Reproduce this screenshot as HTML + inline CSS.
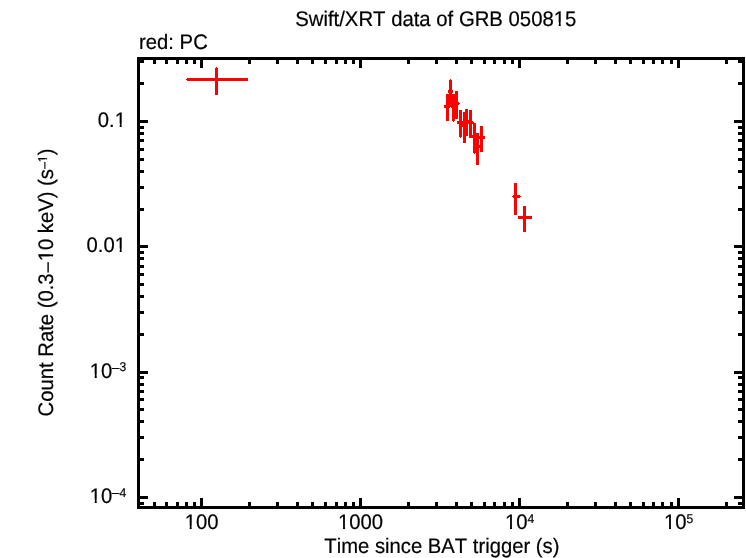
<!DOCTYPE html>
<html><head><meta charset="utf-8"><title>Swift/XRT data of GRB 050815</title>
<style>
html,body{margin:0;padding:0;background:#fff;}
svg{display:block;}
text{font-family:"Liberation Sans",sans-serif;font-size:20.25px;fill:#000;font-kerning:none;text-rendering:geometricPrecision;stroke:#000;stroke-width:0.2px;}
.s{font-size:12.15px;}
.m{font-size:13.2px;stroke:#000;stroke-width:0.25px;}
</style></head><body>
<svg width="746" height="558" viewBox="0 0 746 558">
<rect width="746" height="558" fill="#fff"/>
<g fill="#000" shape-rendering="crispEdges"><rect x="137" y="57" width="608" height="3"/><rect x="137" y="506" width="608" height="3"/><rect x="137" y="57" width="3" height="452"/><rect x="742" y="57" width="3" height="452"/><rect x="153" y="60" width="3" height="4"/><rect x="153" y="502" width="3" height="4"/><rect x="165" y="60" width="3" height="4"/><rect x="165" y="502" width="3" height="4"/><rect x="176" y="60" width="3" height="4"/><rect x="176" y="502" width="3" height="4"/><rect x="185" y="60" width="3" height="4"/><rect x="185" y="502" width="3" height="4"/><rect x="193" y="60" width="3" height="4"/><rect x="193" y="502" width="3" height="4"/><rect x="248" y="60" width="3" height="4"/><rect x="248" y="502" width="3" height="4"/><rect x="276" y="60" width="3" height="4"/><rect x="276" y="502" width="3" height="4"/><rect x="296" y="60" width="3" height="4"/><rect x="296" y="502" width="3" height="4"/><rect x="311" y="60" width="3" height="4"/><rect x="311" y="502" width="3" height="4"/><rect x="324" y="60" width="3" height="4"/><rect x="324" y="502" width="3" height="4"/><rect x="335" y="60" width="3" height="4"/><rect x="335" y="502" width="3" height="4"/><rect x="344" y="60" width="3" height="4"/><rect x="344" y="502" width="3" height="4"/><rect x="352" y="60" width="3" height="4"/><rect x="352" y="502" width="3" height="4"/><rect x="407" y="60" width="3" height="4"/><rect x="407" y="502" width="3" height="4"/><rect x="435" y="60" width="3" height="4"/><rect x="435" y="502" width="3" height="4"/><rect x="455" y="60" width="3" height="4"/><rect x="455" y="502" width="3" height="4"/><rect x="470" y="60" width="3" height="4"/><rect x="470" y="502" width="3" height="4"/><rect x="483" y="60" width="3" height="4"/><rect x="483" y="502" width="3" height="4"/><rect x="493" y="60" width="3" height="4"/><rect x="493" y="502" width="3" height="4"/><rect x="503" y="60" width="3" height="4"/><rect x="503" y="502" width="3" height="4"/><rect x="511" y="60" width="3" height="4"/><rect x="511" y="502" width="3" height="4"/><rect x="566" y="60" width="3" height="4"/><rect x="566" y="502" width="3" height="4"/><rect x="594" y="60" width="3" height="4"/><rect x="594" y="502" width="3" height="4"/><rect x="614" y="60" width="3" height="4"/><rect x="614" y="502" width="3" height="4"/><rect x="629" y="60" width="3" height="4"/><rect x="629" y="502" width="3" height="4"/><rect x="642" y="60" width="3" height="4"/><rect x="642" y="502" width="3" height="4"/><rect x="652" y="60" width="3" height="4"/><rect x="652" y="502" width="3" height="4"/><rect x="661" y="60" width="3" height="4"/><rect x="661" y="502" width="3" height="4"/><rect x="670" y="60" width="3" height="4"/><rect x="670" y="502" width="3" height="4"/><rect x="725" y="60" width="3" height="4"/><rect x="725" y="502" width="3" height="4"/><rect x="200" y="60" width="3" height="8"/><rect x="200" y="498" width="3" height="8"/><rect x="359" y="60" width="3" height="8"/><rect x="359" y="498" width="3" height="8"/><rect x="518" y="60" width="3" height="8"/><rect x="518" y="498" width="3" height="8"/><rect x="677" y="60" width="3" height="8"/><rect x="677" y="498" width="3" height="8"/><rect x="140" y="60" width="4" height="3"/><rect x="738" y="60" width="4" height="3"/><rect x="140" y="82" width="4" height="3"/><rect x="738" y="82" width="4" height="3"/><rect x="140" y="126" width="4" height="3"/><rect x="738" y="126" width="4" height="3"/><rect x="140" y="132" width="4" height="3"/><rect x="738" y="132" width="4" height="3"/><rect x="140" y="139" width="4" height="3"/><rect x="738" y="139" width="4" height="3"/><rect x="140" y="148" width="4" height="3"/><rect x="738" y="148" width="4" height="3"/><rect x="140" y="158" width="4" height="3"/><rect x="738" y="158" width="4" height="3"/><rect x="140" y="170" width="4" height="3"/><rect x="738" y="170" width="4" height="3"/><rect x="140" y="186" width="4" height="3"/><rect x="738" y="186" width="4" height="3"/><rect x="140" y="208" width="4" height="3"/><rect x="738" y="208" width="4" height="3"/><rect x="140" y="251" width="4" height="3"/><rect x="738" y="251" width="4" height="3"/><rect x="140" y="257" width="4" height="3"/><rect x="738" y="257" width="4" height="3"/><rect x="140" y="265" width="4" height="3"/><rect x="738" y="265" width="4" height="3"/><rect x="140" y="273" width="4" height="3"/><rect x="738" y="273" width="4" height="3"/><rect x="140" y="283" width="4" height="3"/><rect x="738" y="283" width="4" height="3"/><rect x="140" y="295" width="4" height="3"/><rect x="738" y="295" width="4" height="3"/><rect x="140" y="311" width="4" height="3"/><rect x="738" y="311" width="4" height="3"/><rect x="140" y="333" width="4" height="3"/><rect x="738" y="333" width="4" height="3"/><rect x="140" y="376" width="4" height="3"/><rect x="738" y="376" width="4" height="3"/><rect x="140" y="383" width="4" height="3"/><rect x="738" y="383" width="4" height="3"/><rect x="140" y="390" width="4" height="3"/><rect x="738" y="390" width="4" height="3"/><rect x="140" y="398" width="4" height="3"/><rect x="738" y="398" width="4" height="3"/><rect x="140" y="408" width="4" height="3"/><rect x="738" y="408" width="4" height="3"/><rect x="140" y="420" width="4" height="3"/><rect x="738" y="420" width="4" height="3"/><rect x="140" y="436" width="4" height="3"/><rect x="738" y="436" width="4" height="3"/><rect x="140" y="458" width="4" height="3"/><rect x="738" y="458" width="4" height="3"/><rect x="140" y="502" width="4" height="3"/><rect x="738" y="502" width="4" height="3"/><rect x="140" y="120" width="8" height="3"/><rect x="734" y="120" width="8" height="3"/><rect x="140" y="245" width="8" height="3"/><rect x="734" y="245" width="8" height="3"/><rect x="140" y="371" width="8" height="3"/><rect x="734" y="371" width="8" height="3"/><rect x="140" y="496" width="8" height="3"/><rect x="734" y="496" width="8" height="3"/></g>
<g fill="#f00" shape-rendering="crispEdges"><rect x="215" y="68" width="3" height="27"/><rect x="216" y="67" width="1" height="1"/><rect x="187" y="78" width="61" height="3"/><rect x="186" y="79" width="1" height="1"/><rect x="446" y="94" width="3" height="27"/><rect x="444" y="105" width="6" height="3"/><rect x="449" y="80" width="3" height="27"/><rect x="449" y="107" width="1" height="1"/><rect x="451" y="107" width="1" height="1"/><rect x="450" y="79" width="1" height="1"/><rect x="448" y="90" width="5" height="3"/><rect x="452" y="94" width="3" height="27"/><rect x="453" y="121" width="1" height="1"/><rect x="455" y="91" width="3" height="28"/><rect x="453" y="102" width="6" height="3"/><rect x="459" y="103" width="1" height="1"/><rect x="459" y="110" width="3" height="27"/><rect x="460" y="137" width="1" height="1"/><rect x="457" y="121" width="16" height="3"/><rect x="473" y="122" width="1" height="1"/><rect x="468" y="120" width="1" height="1"/><rect x="462" y="124" width="1" height="3"/><rect x="463" y="112" width="3" height="31"/><rect x="465" y="109" width="3" height="27"/><rect x="469" y="110" width="3" height="28"/><rect x="472" y="135" width="1" height="3"/><rect x="473" y="123" width="3" height="30"/><rect x="474" y="153" width="1" height="1"/><rect x="476" y="133" width="3" height="32"/><rect x="480" y="126" width="3" height="26"/><rect x="479" y="136" width="6" height="3"/><rect x="479" y="145" width="1" height="3"/><rect x="514" y="183" width="3" height="32"/><rect x="513" y="195" width="7" height="3"/><rect x="512" y="196" width="9" height="1"/><rect x="523" y="206" width="3" height="26"/><rect x="518" y="216" width="14" height="3"/></g>
<text transform="translate(295.2,25.6) scale(1,1.04)" style="font-size:20.32px">Swift/XRT data of GRB 050815</text>
<text transform="translate(139.1,48.9) scale(1,1.04)">red: PC</text>
<text transform="translate(126,126.7) scale(1,1.04)" text-anchor="end">0.1</text>
<text transform="translate(126,251.7) scale(1,1.04)" text-anchor="end">0.01</text>
<text transform="translate(89.75,377.7) scale(1,1.04)">10<tspan class="m" dx="-0.35" dy="-5.8">–</tspan><tspan class="s" dx="0.1" dy="-0.93">3</tspan></text>
<text transform="translate(89.75,502.7) scale(1,1.04)">10<tspan class="m" dx="-0.35" dy="-5.2">–</tspan><tspan class="s" dx="0.1" dy="-0.65">4</tspan></text>
<text transform="translate(201.6,529) scale(1,1.04)" text-anchor="middle">100</text>
<text transform="translate(360.6,529) scale(1,1.04)" text-anchor="middle">1000</text>
<text transform="translate(505,529) scale(1,1.04)">10<tspan class="s" dy="-5.85">4</tspan></text>
<text transform="translate(664,529) scale(1,1.04)">10<tspan class="s" dy="-5.85">5</tspan></text>
<text transform="translate(324.3,553.0) scale(1,1.04)">Time since BAT trigger (s)</text>
<text transform="translate(53,416.4) rotate(-90) scale(1,1.04)">Count Rate (0.3<tspan dx="1.0" style="font-size:18.4px">–</tspan><tspan dx="0.85">10 keV) (s</tspan><tspan class="m" style="font-size:12px" dx="0.2" dy="-5.23">–</tspan><tspan class="s" dx="-0.18" dy="-0.73">1</tspan><tspan dx="0.3" dy="5.96">)</tspan></text>
<g fill="#fff"><rect transform="matrix(1,0,0,1.04,295.2000,25.6000)" x="259.141" y="-3.255" width="4.383" height="4.272"/><rect transform="matrix(1,0,0,1.04,295.2000,25.6000)" x="265.565" y="-3.255" width="4.154" height="4.272"/><rect transform="matrix(1,0,0,1.04,126.0000,126.7000)" x="-10.673" y="-3.246" width="4.371" height="4.260"/><rect transform="matrix(1,0,0,1.04,126.0000,126.7000)" x="-4.267" y="-3.246" width="4.142" height="4.260"/><rect transform="matrix(1,0,0,1.04,126.0000,251.7000)" x="-10.673" y="-3.246" width="4.371" height="4.260"/><rect transform="matrix(1,0,0,1.04,126.0000,251.7000)" x="-4.267" y="-3.246" width="4.142" height="4.260"/><rect transform="matrix(1,0,0,1.04,89.7500,377.7000)" x="0.608" y="-3.241" width="4.365" height="4.254"/><rect transform="matrix(1,0,0,1.04,89.7500,377.7000)" x="7.005" y="-3.241" width="4.136" height="4.254"/><rect transform="matrix(1,0,0,1.04,89.7500,502.7000)" x="0.608" y="-3.241" width="4.365" height="4.254"/><rect transform="matrix(1,0,0,1.04,89.7500,502.7000)" x="7.005" y="-3.241" width="4.136" height="4.254"/><rect transform="matrix(1,0,0,1.04,201.6000,529.0000)" x="-16.291" y="-3.241" width="4.365" height="4.254"/><rect transform="matrix(1,0,0,1.04,201.6000,529.0000)" x="-9.894" y="-3.241" width="4.136" height="4.254"/><rect transform="matrix(1,0,0,1.04,360.6000,529.0000)" x="-21.924" y="-3.241" width="4.365" height="4.254"/><rect transform="matrix(1,0,0,1.04,360.6000,529.0000)" x="-15.527" y="-3.241" width="4.136" height="4.254"/><rect transform="matrix(1,0,0,1.04,505.0000,529.0000)" x="0.608" y="-3.241" width="4.365" height="4.254"/><rect transform="matrix(1,0,0,1.04,505.0000,529.0000)" x="7.005" y="-3.241" width="4.136" height="4.254"/><rect transform="matrix(1,0,0,1.04,664.0000,529.0000)" x="0.608" y="-3.241" width="4.365" height="4.254"/><rect transform="matrix(1,0,0,1.04,664.0000,529.0000)" x="7.005" y="-3.241" width="4.136" height="4.254"/><rect transform="matrix(0,-1,1.04,0,53.0000,416.4000)" x="155.661" y="-3.241" width="4.365" height="4.254"/><rect transform="matrix(0,-1,1.04,0,53.0000,416.4000)" x="162.058" y="-3.241" width="4.136" height="4.254"/><rect transform="matrix(0,-1,1.04,0,53.0000,416.4000)" x="254.422" y="-7.906" width="2.622" height="2.555"/><rect transform="matrix(0,-1,1.04,0,53.0000,416.4000)" x="258.264" y="-7.906" width="2.484" height="2.555"/></g>
</svg>
</body></html>
